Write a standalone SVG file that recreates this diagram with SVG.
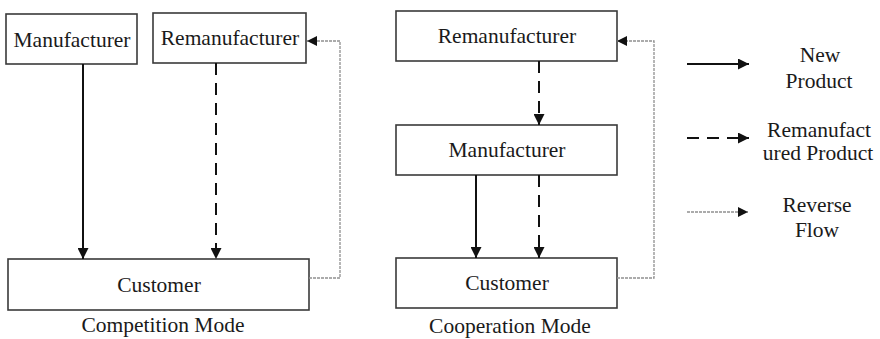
<svg xmlns="http://www.w3.org/2000/svg" width="880" height="339" viewBox="0 0 880 339">
<defs>
<style>
.box{fill:#fff;stroke:#3a3a3a;stroke-width:1.6}
text{font-family:'Liberation Serif','DejaVu Serif','Times New Roman',serif;font-size:21.5px;fill:#1a1a1a;text-anchor:middle}
.solid{stroke:#111;stroke-width:2;fill:none}
.dash{stroke:#111;stroke-width:2;fill:none;stroke-dasharray:12 8}
.rev{stroke:#909090;stroke-width:1.3;fill:none;stroke-dasharray:3 1}
</style>
<marker id="ah" viewBox="0 0 10 10" refX="10" refY="5" markerWidth="12" markerHeight="11" markerUnits="userSpaceOnUse" orient="auto">
<path d="M0,0 L10,5 L0,10 z" fill="#111"/>
</marker>
<marker id="ahr" viewBox="0 0 10 10" refX="10" refY="5" markerWidth="12" markerHeight="10" markerUnits="userSpaceOnUse" orient="auto">
<path d="M0,0 L10,5 L0,10 z" fill="#111"/>
</marker>
</defs>
<g id="comp-manufacturer"><rect class="box" x="6" y="14" width="131" height="50"/><text font-family="Liberation Serif, serif" x="72" y="47">Manufacturer</text></g>
<g id="comp-remanufacturer"><rect class="box" x="153" y="13" width="153" height="50"/><text x="230" y="45">Remanufacturer</text></g>
<g id="comp-customer"><rect class="box" x="8" y="259" width="301" height="51"/><text x="159" y="292">Customer</text></g>
<g id="comp-label"><text x="163" y="332">Competition Mode</text></g>
<g id="coop-remanufacturer"><rect class="box" x="396" y="11" width="221" height="50"/><text x="507" y="43">Remanufacturer</text></g>
<g id="coop-manufacturer"><rect class="box" x="396" y="125" width="221" height="50"/><text x="507" y="157">Manufacturer</text></g>
<g id="coop-customer"><rect class="box" x="396" y="258" width="221" height="50"/><text x="507" y="290">Customer</text></g>
<g id="coop-label"><text x="510" y="333">Cooperation Mode</text></g>
<g id="legend">
<text x="820" y="62">New</text>
<text x="819" y="88">Product</text>
<text x="819" y="137">Remanufact</text>
<text x="818" y="160">ured Product</text>
<text x="817" y="212">Reverse</text>
<text x="817" y="237">Flow</text>
</g>
<g id="connectors">
<line class="solid" x1="83" y1="64" x2="83" y2="259" marker-end="url(#ah)"/>
<line class="dash" x1="216" y1="63" x2="216" y2="259" marker-end="url(#ah)"/>
<polyline class="rev" points="309,278 340,278 340,41 307,41" marker-end="url(#ahr)"/>
<line class="dash" x1="539" y1="61" x2="539" y2="125" marker-end="url(#ah)"/>
<line class="solid" x1="476" y1="175" x2="476" y2="258" marker-end="url(#ah)"/>
<line class="dash" x1="539" y1="175" x2="539" y2="258" marker-end="url(#ah)"/>
<polyline class="rev" points="617,278 654,278 654,41 617,41" marker-end="url(#ahr)"/>
<line class="solid" x1="687" y1="64" x2="749" y2="64" marker-end="url(#ah)"/>
<line class="dash" x1="687" y1="138" x2="749" y2="138" marker-end="url(#ah)" stroke-dasharray="14 9"/>
<line class="rev" x1="687" y1="212" x2="748" y2="212" marker-end="url(#ahr)"/>
</g>
</svg>
